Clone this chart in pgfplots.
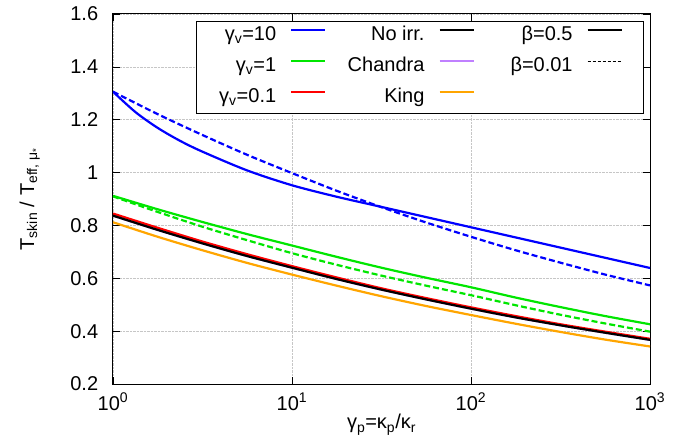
\documentclass[border=0pt]{standalone}
\usepackage{fontspec}
\setmainfont{Liberation Sans}
\usepackage{pgfplots}
\pgfplotsset{compat=1.18}

\definecolor{cblue}{RGB}{0,0,255}
\definecolor{cgreen}{RGB}{0,230,0}
\definecolor{cred}{RGB}{255,0,0}
\definecolor{cpurple}{RGB}{192,128,255}
\definecolor{corange}{RGB}{255,165,0}

% columns: x, blue dashed, green solid, green dashed, red, black, orange
\pgfplotstableread{
x      bd    gs    gd    r     k     o
1      1.306 0.912 0.910 0.845 0.837 0.812
1.778  1.221 0.861 0.851 0.791 0.783 0.757
3.162  1.142 0.813 0.795 0.739 0.732 0.706
5.623  1.067 0.767 0.744 0.691 0.684 0.658
10     0.998 0.724 0.695 0.646 0.640 0.614
17.78  0.931 0.681 0.651 0.603 0.597 0.572
31.62  0.869 0.640 0.610 0.562 0.557 0.532
56.23  0.811 0.602 0.572 0.525 0.520 0.495
100    0.757 0.566 0.536 0.490 0.485 0.461
177.8  0.706 0.527 0.498 0.457 0.452 0.428
316.2  0.659 0.491 0.462 0.426 0.422 0.397
562.3  0.614 0.457 0.429 0.398 0.394 0.368
1000   0.573 0.426 0.398 0.371 0.367 0.342
}\skin

% blue solid (gamma_v=10, beta=0.5)
\pgfplotstableread{
x      y
1      1.306
1.334  1.229
1.778  1.169
2.371  1.120
3.162  1.079
5.623  1.008
10     0.952
17.78  0.9085
31.62  0.870
56.23  0.8315
100    0.793
177.8  0.7545
316.2  0.716
562.3  0.6775
1000   0.639
}\blues

\begin{document}
\fontsize{20}{24}\selectfont
\begin{tikzpicture}
\begin{axis}[
  name=ax,
  scale only axis,
  width=537pt, height=370pt,
  xmode=log, log basis x=10,
  xmin=1, xmax=1000, ymin=0.2, ymax=1.6,
  xtick={1,10,100,1000},
  xticklabels={10\textsuperscript{0},10\textsuperscript{1},10\textsuperscript{2},10\textsuperscript{3}},
  ytick={0.2,0.4,0.6,0.8,1,1.2,1.4,1.6},
  yticklabels={0.2,0.4,0.6,0.8,1,1.2,1.4,1.6},
  /pgf/number format/assume math mode=true,
  yticklabel style={xshift=-8pt},
  xticklabel style={yshift=-2pt},
  grid=both,
  major grid style={densely dotted, gray!45, line width=0.6pt},
  minor grid style={densely dotted, gray!45, line width=0.6pt},
  tick align=inside,
  major tick length=7pt, minor tick length=4pt,
  tick style={black, line width=0.7pt},
  axis line style={line width=1pt},
  xlabel={γ\textsubscript{p}=κ\textsubscript{p}/κ\textsubscript{r}},
  ylabel={T\textsubscript{skin} / T\textsubscript{eff, μ\textsubscript{*}}},
  xlabel style={at={(axis description cs:0.5,-0.11)}, anchor=center},
  ylabel style={at={(axis description cs:-0.155,0.5)}, anchor=center},
  legend columns=3,
  legend plot pos=right,
  legend style={at={(0.987,0.981)}, anchor=north east, draw=black,
    fill=white, inner xsep=20pt, inner ysep=6pt,
    row sep=13pt,
    /tikz/every odd column/.style={column sep=14pt},
    /tikz/every even column/.style={column sep=10pt},
    nodes={inner sep=0pt, text height=13pt, text depth=5pt}},
  legend image code/.code={\draw[#1] (0pt,0.3em) -- (34pt,0.3em);},
]
\addplot[cblue, line width=2.2pt, smooth, forget plot] table[x=x, y=y] {\blues};
\addplot[cblue, line width=2.2pt, smooth, dash pattern=on 6pt off 3pt, forget plot] table[x=x, y=bd] {\skin};
\addplot[cgreen, line width=2.2pt, smooth, forget plot] table[x=x, y=gs] {\skin};
\addplot[cgreen, line width=2.2pt, smooth, dash pattern=on 6pt off 3pt, forget plot] table[x=x, y=gd] {\skin};
\addplot[cpurple, line width=2.2pt, smooth, forget plot] table[x=x, y=k] {\skin};
\addplot[cred, line width=2.2pt, smooth, forget plot] table[x=x, y=r] {\skin};
\addplot[black, line width=2.2pt, smooth, forget plot] table[x=x, y=k] {\skin};
\addplot[corange, line width=2.2pt, smooth, forget plot] table[x=x, y=o] {\skin};

\addlegendimage{draw=cblue, line width=2.2pt}
\addlegendentry{\makebox[60pt][r]{γ\textsubscript{v}=10}}
\addlegendimage{draw=black, line width=2.2pt}
\addlegendentry{\makebox[88pt][r]{No irr.}}
\addlegendimage{draw=black, line width=2.2pt}
\addlegendentry{\makebox[88pt][r]{β=0.5}}
\addlegendimage{draw=cgreen, line width=2.2pt}
\addlegendentry{\makebox[60pt][r]{γ\textsubscript{v}=1}}
\addlegendimage{draw=cpurple, line width=2.2pt}
\addlegendentry{\makebox[88pt][r]{Chandra}}
\addlegendimage{draw=black, line width=1.4pt, dash pattern=on 3pt off 2pt}
\addlegendentry{\makebox[88pt][r]{β=0.01}}
\addlegendimage{draw=cred, line width=2.2pt}
\addlegendentry{\makebox[60pt][r]{γ\textsubscript{v}=0.1}}
\addlegendimage{draw=corange, line width=2.2pt}
\addlegendentry{\makebox[88pt][r]{King}}
\end{axis}
\pgfresetboundingbox
\path[use as bounding box] ([xshift=-113pt,yshift=-57pt]ax.south west) rectangle ([xshift=50pt,yshift=14pt]ax.north east);
\end{tikzpicture}
\end{document}
